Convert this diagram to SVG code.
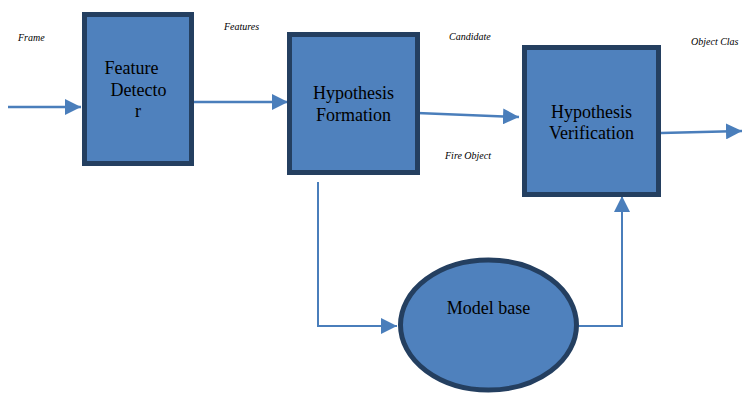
<svg xmlns="http://www.w3.org/2000/svg" width="742" height="393" viewBox="0 0 742 393">
<style>
.box{fill:#4f81bd;stroke:#243f60;stroke-width:5}
.lbl{font-family:"Liberation Serif","Times New Roman",serif;font-size:18px;fill:#000;text-anchor:middle}
.sm{font-family:"Liberation Serif","Times New Roman",serif;font-size:10px;font-style:italic;fill:#000}
.c{fill:none;stroke:#4a7ebb;stroke-width:2.5}
.c2{fill:none;stroke:#4a7ebb;stroke-width:2}
</style>
<defs>
<marker id="ah" markerUnits="userSpaceOnUse" markerWidth="16" markerHeight="16" refX="16" refY="8" orient="auto" viewBox="0 0 16 16">
<path d="M0,0 L16,8 L0,16 Z" fill="#4a7ebb"/>
</marker>
</defs>
<rect width="742" height="393" fill="#fff"/>
<g id="connectors">
<line class="c" x1="8" y1="107" x2="81" y2="107" marker-end="url(#ah)"/>
<line class="c" x1="194" y1="102" x2="288" y2="102" marker-end="url(#ah)"/>
<line class="c" x1="417" y1="113" x2="519" y2="117" marker-end="url(#ah)"/>
<line class="c" x1="661" y1="133" x2="742" y2="131" marker-end="url(#ah)"/>
<path class="c2" d="M318,182 L318,326 L397,326" marker-end="url(#ah)"/>
<path class="c2" d="M578,326 L622,326 L622,196" marker-end="url(#ah)"/>
</g>
<g id="labels">
<text class="sm" x="18" y="41">Frame</text>
<text class="sm" x="224" y="30">Features</text>
<text class="sm" x="449" y="40">Candidate</text>
<text class="sm" x="445" y="159">Fire Object</text>
<text class="sm" x="691" y="45">Object Clas</text>
</g>
<g id="feature-detector">
<rect class="box" x="84.5" y="14.5" width="107" height="149"/>
<text class="lbl" x="131.5" y="74">Feature</text>
<text class="lbl" x="138.5" y="96">Detecto</text>
<text class="lbl" x="138" y="117">r</text>
</g>
<g id="hypothesis-formation">
<rect class="box" x="289.5" y="34.5" width="128" height="138"/>
<text class="lbl" x="353.5" y="99">Hypothesis</text>
<text class="lbl" x="353.5" y="121">Formation</text>
</g>
<g id="hypothesis-verification">
<rect class="box" x="524.5" y="47.5" width="134" height="147"/>
<text class="lbl" x="591.5" y="118">Hypothesis</text>
<text class="lbl" x="591.5" y="139">Verification</text>
</g>
<g id="model-base">
<ellipse class="box" cx="488.5" cy="325" rx="88" ry="65"/>
<text class="lbl" x="488.5" y="314">Model base</text>
</g>
</svg>
